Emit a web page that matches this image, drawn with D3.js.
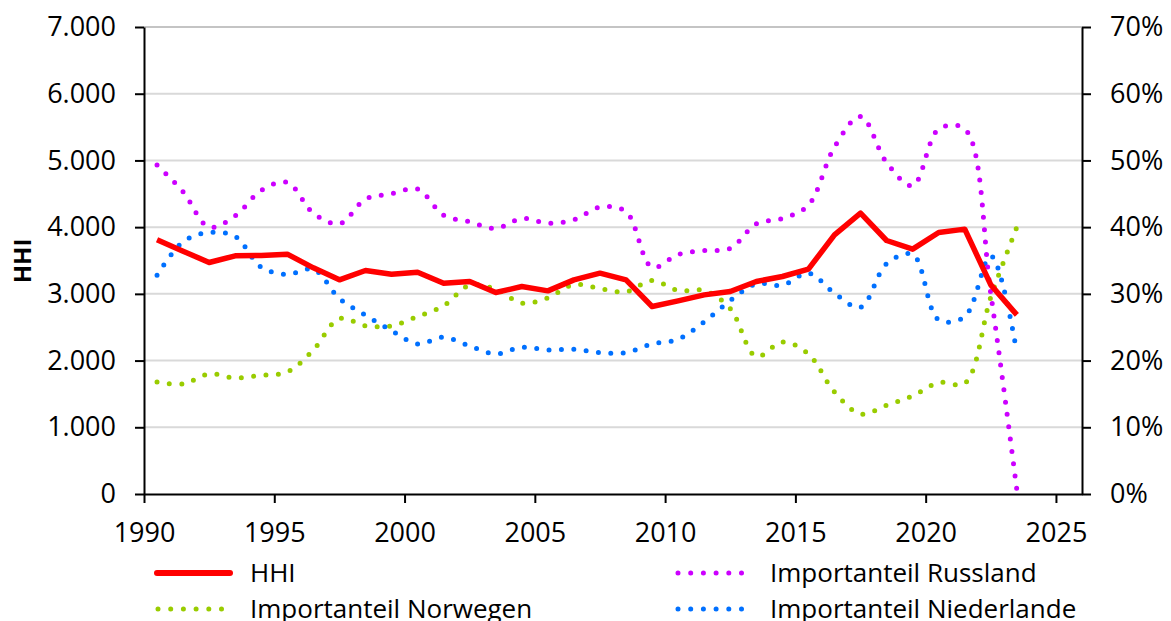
<!DOCTYPE html>
<html>
<head>
<meta charset="utf-8">
<script src="https://cdn.jsdelivr.net/npm/d3@7"></script>
<style>
  body { margin: 0; background: #fff; }
  svg { display: block; font-family: "Open Sans", sans-serif; }
</style>
</head>
<body>
<svg width="1171" height="621"></svg>
<script>
// values (shares in %)
var years = [1990, 1991, 1992, 1993, 1994, 1995, 1996, 1997, 1998, 1999,
  2000, 2001, 2002, 2003, 2004, 2005, 2006, 2007, 2008, 2009,
  2010, 2011, 2012, 2013, 2014, 2015, 2016, 2017, 2018, 2019,
  2020, 2021, 2022, 2023];
var hhi = [3810, 3640, 3470, 3570, 3575, 3595, 3390, 3210, 3350, 3295,
  3325, 3160, 3185, 3020, 3110, 3045, 3210, 3310, 3210, 2810,
  2895, 2985, 3035, 3185, 3260, 3370, 3885, 4210, 3800, 3670,
  3920, 3970, 3135, 2685];
var russland = [49.3, 45.3, 40.0, 41.7, 45.5, 46.7, 42.1, 40.5, 44.2, 45.0,
  45.7, 41.8, 40.8, 39.8, 41.3, 40.6, 41.1, 43.0, 42.3, 34.0,
  35.9, 36.5, 36.8, 40.5, 41.3, 43.3, 52.0, 56.6, 49.7, 46.2,
  54.7, 54.7, 30.0, 0.6];
var norwegen = [16.8, 16.5, 18.0, 17.4, 17.8, 18.3, 21.6, 26.3, 25.2, 25.2,
  26.6, 28.2, 31.3, 30.7, 28.6, 29.4, 31.4, 30.8, 30.3, 32.0,
  30.5, 30.5, 27.8, 20.6, 22.8, 21.0, 15.3, 12.0, 13.3, 14.7,
  16.7, 16.6, 29.5, 40.0];
var niederlande = [32.8, 37.8, 39.2, 38.6, 34.0, 32.9, 33.7, 29.3, 26.8, 24.5,
  22.5, 23.5, 22.2, 21.0, 22.0, 21.6, 21.7, 21.2, 21.2, 22.5,
  23.2, 25.8, 29.0, 31.5, 31.3, 33.1, 30.1, 28.0, 34.5, 35.9,
  26.1, 26.6, 35.7, 21.2];
var leftTicks = [0, 1000, 2000, 3000, 4000, 5000, 6000, 7000];
var rightTicks = [0, 10, 20, 30, 40, 50, 60, 70];
var xTicks = [1990, 1995, 2000, 2005, 2010, 2015, 2020, 2025];

var svg = d3.select('svg');
var plotLeft = 144, plotRight = 1082, plotTop = 27, plotBottom = 494;

var x = d3.scaleLinear().domain([1990, 2026]).range([plotLeft, plotRight]);
var yL = d3.scaleLinear().domain([0, 7000]).range([plotBottom, plotTop]);
var yR = d3.scaleLinear().domain([0, 70]).range([plotBottom, plotTop]);

var de = d3.formatLocale({ decimal: ',', thousands: '.', grouping: [3], currency: ['', ' €'] });

// gridlines
svg.append('g')
  .selectAll('line')
  .data(leftTicks.slice(1))
  .enter()
  .append('line')
  .attr('x1', plotLeft)
  .attr('x2', plotRight)
  .attr('y1', function(d) { return yL(d); })
  .attr('y2', function(d) { return yL(d); })
  .attr('stroke', function(d) { return d === 7000 ? '#c4c4c4' : '#d9d9d9'; })
  .attr('stroke-width', 2);

var styleAxis = function(g) {
  g.attr('font-family', null).attr('font-size', null);
  g.selectAll('path, line').attr('stroke', '#000').attr('stroke-width', 2);
  g.selectAll('text').attr('fill', '#000').style('font-size', '27px');
};

svg.append('g')
  .attr('transform', 'translate(' + plotLeft + ',0)')
  .call(d3.axisLeft(yL).tickValues(leftTicks).tickSize(9).tickSizeOuter(0).tickPadding(19)
    .tickFormat(de.format(',')))
  .call(styleAxis);

svg.append('g')
  .attr('transform', 'translate(' + plotRight + ',0)')
  .call(d3.axisRight(yR).tickValues(rightTicks).tickSize(9).tickSizeOuter(0).tickPadding(19)
    .tickFormat(function(d) { return d + '%'; }))
  .call(styleAxis);

svg.append('g')
  .attr('transform', 'translate(0,' + plotBottom + ')')
  .call(d3.axisBottom(x).tickValues(xTicks).tickSize(9).tickSizeOuter(0).tickPadding(20)
    .tickFormat(d3.format('d')))
  .call(styleAxis);

svg.append('text')
  .attr('transform', 'translate(31,261) rotate(-90)')
  .attr('text-anchor', 'middle')
  .style('font-size', '24px')
  .style('font-weight', 'bold')
  .text('HHI');

// series
var series = [
  { name: 'Importanteil Norwegen', values: norwegen, color: '#99cc00' },
  { name: 'Importanteil Niederlande', values: niederlande, color: '#0070ff' },
  { name: 'Importanteil Russland', values: russland, color: '#cc00ff' }
];

var smooth = d3.line()
  .x(function(d, i) { return x(years[i] + 0.5); })
  .y(function(d) { return yR(d); })
  .curve(d3.curveCatmullRom.alpha(0.5));

svg.append('g')
  .selectAll('path')
  .data(series)
  .enter()
  .append('path')
  .attr('d', function(s) { return smooth(s.values); })
  .attr('fill', 'none')
  .attr('stroke', function(s) { return s.color; })
  .attr('stroke-width', 5)
  .attr('stroke-linecap', 'round')
  .attr('stroke-dasharray', '0 12.4');

var hhiLine = d3.line()
  .x(function(d, i) { return x(years[i] + 0.5); })
  .y(function(d) { return yL(d); });

svg.append('path')
  .attr('d', hhiLine(hhi))
  .attr('fill', 'none')
  .attr('stroke', '#ff0000')
  .attr('stroke-width', 5.5)
  .attr('stroke-linejoin', 'round');

// legend
var legend = [
  { name: 'HHI', color: '#ff0000', dotted: false, x: 157, y: 573 },
  { name: 'Importanteil Norwegen', color: '#99cc00', dotted: true, x: 158, y: 609 },
  { name: 'Importanteil Russland', color: '#cc00ff', dotted: true, x: 678, y: 573 },
  { name: 'Importanteil Niederlande', color: '#0070ff', dotted: true, x: 678, y: 609 }
];

var item = svg.append('g')
  .selectAll('g')
  .data(legend)
  .enter()
  .append('g');

item.append('line')
  .attr('x1', function(d) { return d.x; })
  .attr('x2', function(d) { return d.dotted ? d.x + 64 : d.x + 73; })
  .attr('y1', function(d) { return d.y; })
  .attr('y2', function(d) { return d.y; })
  .attr('stroke', function(d) { return d.color; })
  .attr('stroke-width', function(d) { return d.dotted ? 5 : 6; })
  .attr('stroke-linecap', 'round')
  .attr('stroke-dasharray', function(d) { return d.dotted ? '0 12.7' : null; });

item.append('text')
  .attr('x', function(d) { return d.x < 500 ? 250 : 770; })
  .attr('y', function(d) { return d.y + 9; })
  .style('font-size', '26px')
  .text(function(d) { return d.name; });
</script>
</body>
</html>
